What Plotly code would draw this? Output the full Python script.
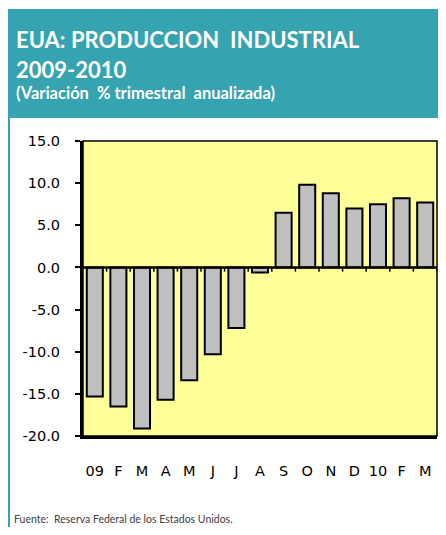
import plotly.graph_objects as go

# Monthly figures, Jan 2009 - Mar 2010
meses = ["09", "F", "M", "A", "M", "J", "J", "A", "S", "O", "N", "D", "10", "F", "M"]
variacion = [-15.3, -16.5, -19.1, -15.7, -13.4, -10.3, -7.2, -0.6,
             6.5, 9.8, 8.8, 7.0, 7.5, 8.2, 7.7]
y_ticks = [15, 10, 5, 0, -5, -10, -15, -20]
y_tick_text = ["15.0", "10.0", "5.0", "0.0", "-5.0", "-10.0", "-15.0", "-20.0"]

x_idx = list(range(len(meses)))

# plot area in px (page body has an 8px margin, so the figure is 430x519)
PW, PH = 354, 295
L, T = 75, 133

fig = go.Figure()
fig.add_trace(go.Bar(
    x=x_idx, y=variacion,
    marker=dict(color="#C0C0C0", line=dict(color="#000000", width=2)),
    width=0.68,
))

# teal header band + left border
fig.add_shape(type="rect", xref="paper", yref="paper", layer="below",
              x0=-(L + 2)/PW, x1=1 + 5/PW, y0=1 + 23/PH, y1=1 + 132/PH,
              fillcolor="#36A3B1", line_width=0)
fig.add_shape(type="line", xref="paper", yref="paper",
              x0=-(L - 1)/PW, x1=-(L - 1)/PW, y0=-91/PH, y1=1 + 23/PH,
              line=dict(color="#36A3B1", width=2))

# thin top/right frame
fig.add_shape(type="rect", xref="paper", yref="paper",
              x0=0, x1=1, y0=0, y1=1, line=dict(color="#000000", width=1.5))

# zero line with small ticks at category boundaries
fig.add_shape(type="line", xref="paper", yref="y", x0=0, x1=1, y0=0, y1=0,
              line=dict(color="#000000", width=2.5))
for i in range(len(meses)):
    fig.add_shape(type="line", xref="x", yref="y", x0=i + 0.5, x1=i + 0.5,
                  y0=0, y1=-0.5, line=dict(color="#000000", width=1.5))

fig.add_annotation(text="<b>EUA: PRODUCCION  INDUSTRIAL</b>", xref="paper", yref="paper",
                   x=-(L - 6)/PW, y=1 + 102/PH, xanchor="left", yanchor="middle",
                   showarrow=False, font=dict(family="Lato", size=22, color="white"))
fig.add_annotation(text="<b>2009-2010</b>", xref="paper", yref="paper",
                   x=-(L - 6)/PW, y=1 + 72/PH, xanchor="left", yanchor="middle",
                   showarrow=False, font=dict(family="Lato", size=22, color="white"))
fig.add_annotation(text="<b>(Variación  % trimestral  anualizada)</b>", xref="paper", yref="paper",
                   x=-(L - 6)/PW, y=1 + 48/PH, xanchor="left", yanchor="middle",
                   showarrow=False, font=dict(family="Lato", size=16.5, color="white"))
fig.add_annotation(text="Fuente:  Reserva Federal de los Estados Unidos.", xref="paper", yref="paper",
                   x=-(L - 4)/PW, y=-91/PH, xanchor="left", yanchor="bottom",
                   showarrow=False, font=dict(family="Lato", size=10.5, color="#404040"))

fig.update_layout(
    width=430, height=519,
    margin=dict(l=L, r=430 - L - PW, t=T, b=519 - T - PH),
    paper_bgcolor="white", plot_bgcolor="#FFFF99",
    showlegend=False,
    font=dict(family="DejaVu Sans", size=14.5, color="#000000"),
)
fig.update_xaxes(
    range=[-0.5, len(meses) - 0.5],
    tickmode="array", tickvals=x_idx, ticktext=meses,
    showline=True, linecolor="#000000", linewidth=3,
    ticks="", showgrid=False, zeroline=False,
    ticklabelstandoff=20,
)
fig.update_yaxes(
    range=[-20, 15], tickmode="array", tickvals=y_ticks, ticktext=y_tick_text,
    showline=True, linecolor="#000000", linewidth=3,
    ticks="outside", ticklen=5, tickwidth=2, tickcolor="#000000",
    showgrid=False, zeroline=False, ticklabelstandoff=12,
)

fig.write_html("out.html")
